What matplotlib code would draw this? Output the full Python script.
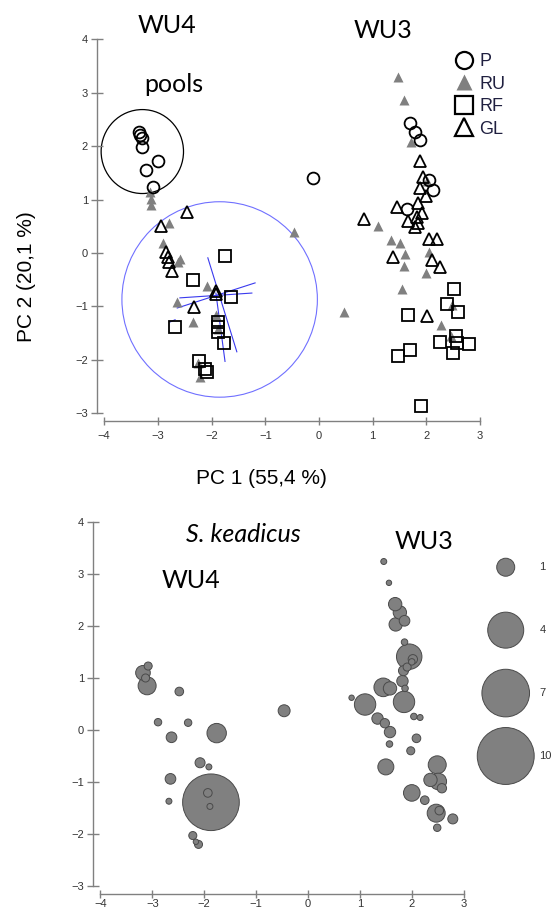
import numpy as np
import matplotlib
matplotlib.use("Agg")
import matplotlib.pyplot as plt
from matplotlib.patches import Ellipse
from matplotlib.lines import Line2D

plt.rcParams["font.family"] = ["Liberation Sans", "DejaVu Sans"]

# ---- top panel: PCA scores by habitat ----
p_x = [-3.36, -3.33, -3.30, -3.29, -2.99, -3.22, -3.09, -0.11, 1.69, 1.79, 1.88, 2.05, 2.13, 1.63]
p_y = [2.27, 2.21, 2.15, 1.99, 1.73, 1.55, 1.24, 1.40, 2.43, 2.27, 2.11, 1.37, 1.18, 0.82]

ru_x = [-3.15, -3.13, -3.12, -2.79, -2.90, -2.62, -2.58, -2.08, -2.65, -2.34, -1.92, -1.88, -2.25, -2.22,
        -0.47, 0.47,
        1.48, 1.58, 1.71, 2.02, 1.10, 1.34, 1.50, 1.60, 2.05, 1.59, 1.99, 1.54, 2.47, 2.27, 2.46]
ru_y = [1.15, 1.02, 0.90, 0.57, 0.18, -0.16, -0.12, -0.62, -0.92, -1.30, -1.16, -1.42, -2.06, -2.33,
        0.39, -1.10,
        3.29, 2.87, 2.08, 1.34, 0.51, 0.24, 0.18, -0.01, 0.01, -0.24, -0.38, -0.68, -0.97, -1.34, -1.55]

rf_x = [-1.75, -2.35, -1.63, -2.68, -1.88, -1.88, -1.88, -1.77, -2.23, -2.12, -2.09,
        2.52, 2.38, 2.58, 1.66, 2.26, 2.56, 2.57, 2.79, 2.50, 1.69, 1.48, 1.90]
rf_y = [-0.06, -0.51, -0.82, -1.38, -1.30, -1.38, -1.47, -1.69, -2.03, -2.18, -2.22,
        -0.67, -0.96, -1.11, -1.17, -1.67, -1.56, -1.69, -1.71, -1.88, -1.82, -1.93, -2.86]

gl_x = [-2.46, -2.95, -2.84, -2.82, -2.79, -2.73, -1.91, -1.92, -2.32,
        0.84, 1.88, 1.94, 1.88, 2.00, 1.85, 1.45, 1.91, 1.82, 1.66, 1.85, 1.78,
        2.05, 2.19, 1.37, 2.11, 2.25, 2.02]
gl_y = [0.77, 0.51, 0.01, -0.07, -0.16, -0.34, -0.71, -0.76, -1.02,
        0.63, 1.73, 1.43, 1.21, 1.07, 0.93, 0.87, 0.74, 0.68, 0.60, 0.57, 0.49,
        0.27, 0.27, -0.07, -0.13, -0.27, -1.18]

# loading vectors inside the blue circle (x0, y0, x1, y1)
vec_x0 = [-2.07, -1.92, -2.64, -2.59, -2.77]
vec_y0 = [-0.09, -0.75, -1.03, -0.84, -1.29]
vec_x1 = [-1.53, -1.75, -1.19, -1.25, -2.68]
vec_y1 = [-1.85, -2.03, -0.56, -0.75, -1.25]

# ---- bottom panel: S. keadicus abundance ----
bub_x = [-3.18, -3.08, -3.10, -3.13, -2.48, -2.89, -2.31, -2.63, -1.76, -2.08,
         -1.91, -2.65, -2.68, -1.87, -1.93, -1.89, -2.22, -2.11, -2.16, -0.46,
         1.46, 1.56, 1.68, 1.77, 1.69, 1.86, 1.86, 1.95, 2.02, 2.00,
         1.91, 1.84, 1.82, 1.87, 1.45, 1.58, 1.85, 1.10, 0.84, 1.34,
         1.48, 1.58, 1.57, 2.04, 2.16, 2.09, 1.98, 1.50, 2.49, 2.36,
         2.51, 2.58, 2.00, 2.25, 2.47, 2.53, 2.79, 2.49]
bub_y = [1.10, 1.23, 0.85, 1.00, 0.74, 0.15, 0.14, -0.14, -0.06, -0.63,
         -0.71, -0.94, -1.37, -1.39, -1.21, -1.47, -2.03, -2.20, -2.15, 0.37,
         3.24, 2.83, 2.42, 2.26, 2.03, 2.10, 1.69, 1.41, 1.36, 1.31,
         1.21, 1.14, 0.94, 0.80, 0.82, 0.80, 0.54, 0.49, 0.62, 0.22,
         0.13, -0.04, -0.27, 0.26, 0.24, -0.16, -0.40, -0.71, -0.67, -0.96,
         -0.99, -1.12, -1.21, -1.35, -1.60, -1.55, -1.71, -1.88]
bub_v = [0.66, 0.20, 1.00, 0.20, 0.23, 0.17, 0.17, 0.35, 1.16, 0.31,
         0.11, 0.35, 0.11, 9.9, 0.23, 0.11, 0.20, 0.20, 0.09, 0.44,
         0.11, 0.09, 0.55, 0.55, 0.55, 0.35, 0.13, 2.0, 0.27, 0.13,
         0.20, 0.31, 0.40, 0.13, 1.07, 0.55, 1.41, 1.41, 0.09, 0.40,
         0.27, 0.40, 0.13, 0.13, 0.11, 0.23, 0.20, 0.79, 1.00, 0.55,
         0.85, 0.27, 0.85, 0.23, 1.00, 0.23, 0.31, 0.17]
legend_vals = [1, 4, 7, 10]
legend_y = [3.13, 1.92, 0.71, -0.50]

W, H = 553, 910
fig = plt.figure(figsize=(W / 100, H / 100), dpi=100)


def fpos(px, py):
    return px / W, 1 - py / H


def style_axes(ax, xpad):
    for s in ("top", "right"):
        ax.spines[s].set_visible(False)
    for s in ("left", "bottom"):
        ax.spines[s].set_color("#808080")
        ax.spines[s].set_linewidth(1.0)
    ax.spines["left"].set_bounds(-3, 4)
    ax.spines["bottom"].set_bounds(-4, 3)
    ax.set_xticks(range(-4, 4))
    ax.set_yticks(range(-3, 5))
    ax.tick_params(axis="both", direction="inout", width=1.0, color="#808080",
                   labelsize=8, labelcolor="#333333")
    ax.tick_params(axis="y", length=8, pad=2.5)
    ax.tick_params(axis="x", length=6, pad=xpad)


# top axes
ax1 = fig.add_axes([97 / W, 1 - 421 / H, (W - 97) / W, 421 / H])
ax1.set_xlim(-4.134, 4.358)
ax1.set_ylim(-3.146, 4.738)
style_axes(ax1, 4.5)

ax1.add_patch(Ellipse((-3.29, 1.90), 2 * 0.767, 2 * 0.786, fill=False,
                      edgecolor="black", lw=0.9))
ax1.add_patch(Ellipse((-1.85, -0.87), 2 * 1.82, 2 * 1.83, fill=False,
                      edgecolor="#7070ff", lw=0.8))
for a, b, c, d in zip(vec_x0, vec_y0, vec_x1, vec_y1):
    ax1.plot([a, c], [b, d], color="#3a3aee", lw=0.8)

ax1.plot(ru_x, ru_y, "^", ms=7.5, mfc="#808080", mec="none", ls="none")
ax1.plot(p_x, p_y, "o", ms=8.5, mfc="none", mec="black", mew=1.3, ls="none")
ax1.plot(rf_x, rf_y, "s", ms=9, mfc="none", mec="black", mew=1.3, ls="none")
ax1.plot(gl_x, gl_y, "^", ms=8.5, mfc="none", mec="black", mew=1.3, ls="none")

handles = [
    Line2D([], [], marker="o", ms=8.5, mfc="none", mec="black", mew=1.6, ls="none"),
    Line2D([], [], marker="^", ms=7.5, mfc="#808080", mec="none", ls="none"),
    Line2D([], [], marker="s", ms=9, mfc="none", mec="black", mew=1.6, ls="none"),
    Line2D([], [], marker="^", ms=8.5, mfc="none", mec="black", mew=1.6, ls="none"),
]
leg = ax1.legend(handles, ["P", "RU", "RF", "GL"], loc="upper left",
                 bbox_to_anchor=(2.53, 3.74), bbox_transform=ax1.transData,
                 frameon=False, borderpad=0, borderaxespad=0, markerscale=1.45,
                 handlelength=1.0, handletextpad=0.35, labelspacing=0.3,
                 fontsize=13)
for t in leg.get_texts():
    t.set_color("#202040")

ann = dict(family=["Lato", "DejaVu Sans"], fontsize=18, color="black",
           ha="center", va="baseline")
fig.text(*fpos(167, 33), "WU4", **ann)
fig.text(*fpos(174, 92), "pools", **ann)
fig.text(*fpos(383, 38), "WU3", **ann)

fig.text(*fpos(261, 484), "PC 1 (55,4 %)", fontsize=15, ha="center", va="baseline")
fig.text(*fpos(26, 277), "PC 2 (20,1 %)", fontsize=15, ha="center", va="center",
         rotation=90)

# bottom axes
ax2 = fig.add_axes([93 / W, 1 - 894 / H, (W - 93) / W, 399 / H])
ax2.set_xlim(-4.143, 4.721)
ax2.set_ylim(-3.154, 4.519)
style_axes(ax2, 0.5)

scale = 168  # points^2 per abundance unit
order = np.argsort(bub_v)[::-1]
bx = np.array(bub_x)[order]
by = np.array(bub_y)[order]
bv = np.array(bub_v)[order]
ax2.scatter(bx, by, s=bv * scale, c="#808080", edgecolors="#4a4a4a",
            linewidths=0.7, zorder=3)

ax2.scatter([3.81] * len(legend_vals), legend_y, s=np.array(legend_vals) * scale,
            c="#808080", edgecolors="#4a4a4a", linewidths=0.7, clip_on=False, zorder=3)
for v, yy in zip(legend_vals, legend_y):
    ax2.text(4.46, yy, str(v), fontsize=8, color="#333333", ha="left", va="center",
             clip_on=False)

fig.text(*fpos(243, 542), "S. keadicus", family=["Lato", "DejaVu Sans"], style="italic",
         fontsize=18, ha="center", va="baseline")
fig.text(*fpos(191, 588), "WU4", **ann)
fig.text(*fpos(424, 549), "WU3", **ann)

fig.savefig("out.png", dpi=100)
